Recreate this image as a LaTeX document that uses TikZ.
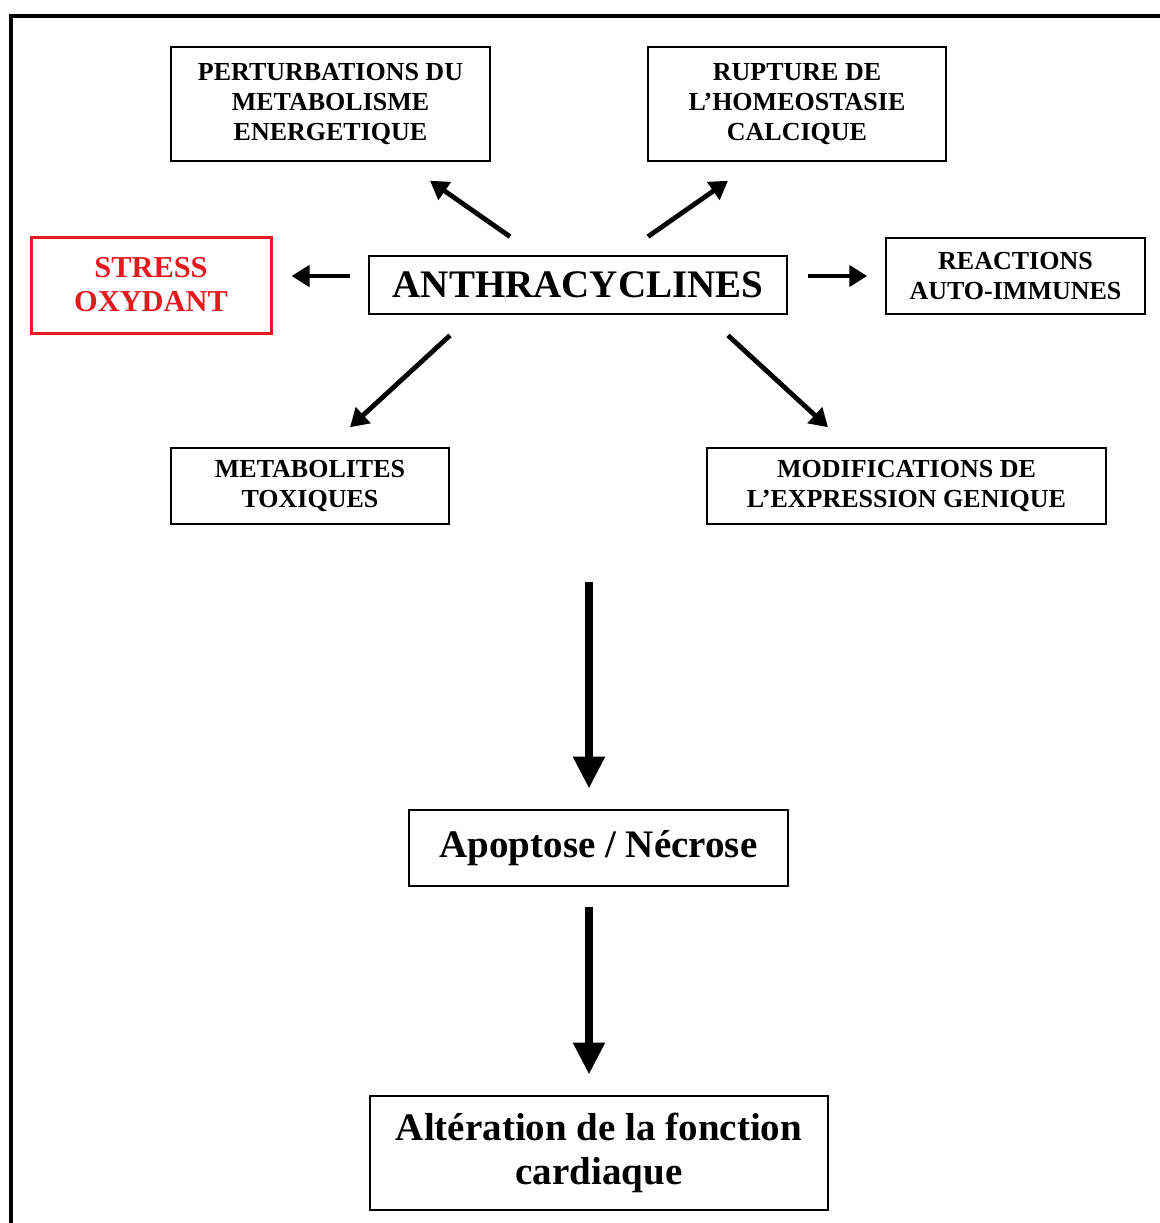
\documentclass[tikz,border=0pt]{standalone}
\usepackage{fontspec}
\setmainfont{Liberation Serif}
\usetikzlibrary{arrows.meta,calc}
\definecolor{rouge}{RGB}{230,25,30}
\tikzset{
  petit/.style={draw, line width=0.75pt, inner sep=0pt, align=center,
    font=\bfseries\fontsize{13}{15}\selectfont},
  grand/.style={draw, line width=1.4pt, inner sep=0pt, align=center,
    font=\bfseries\fontsize{19.5}{22}\selectfont},
  fleche/.style={line width=2.4pt, -{Triangle[length=9pt,width=10.5pt]}},
  grossefleche/.style={line width=4pt, -{Triangle[length=16pt,width=15pt]}}
}
\begin{document}
\begin{tikzpicture}[x=0.5pt,y=-0.5pt]
        \useasboundingbox (0,0) rectangle (1160,1223);
        % Cadre
        \draw[line width=2pt] (11,1223) -- (11,16) -- (1160,16);

        % Centre
        \node[grand, minimum width=209pt, minimum height=29pt, text depth=0pt] (anth) at (578,285) {ANTHRACYCLINES};

        % Effets
        \node[petit, minimum width=159.5pt, minimum height=57pt] (perturb) at (330.5,104) {PERTURBATIONS DU\\METABOLISME\\ENERGETIQUE};
        \node[petit, minimum width=149pt, minimum height=57pt] (rupture) at (797,104) {RUPTURE DE\\L’HOMEOSTASIE\\CALCIQUE};
        \node[draw=rouge, text=rouge, line width=1.5pt, inner sep=0pt, align=center,
              font=\bfseries\fontsize{15.2}{17}\selectfont,
              minimum width=120pt, minimum height=48pt] (stress) at (151,285) {STRESS\\OXYDANT};
        \node[petit, minimum width=129.5pt, minimum height=38pt] (reactions) at (1015.5,276) {REACTIONS\\AUTO-IMMUNES};
        \node[petit, minimum width=139pt, minimum height=38pt] (metab) at (310,486) {METABOLITES\\TOXIQUES};
        \node[petit, minimum width=199.5pt, minimum height=38pt] (modif) at (906.5,486) {MODIFICATIONS DE\\L’EXPRESSION GENIQUE};

        % Consequences
        \node[grand, minimum width=189.5pt, minimum height=38pt] (apop) at (598.5,848) {Apoptose / Nécrose};
        \node[grand, minimum width=229pt, minimum height=57pt] (alter) at (599,1153) {Altération de la fonction\\cardiaque};

        % Fleches
        \draw[fleche] ($(anth.north)+(-68,-18)$) -- ($(perturb.south)+(99.5,19)$);
        \draw[fleche] ($(anth.north)+(70,-18)$) -- ($(rupture.south)+(-69,19)$);
        \draw[fleche] ($(anth.west)+(-18,-9)$) -- ($(stress.east)+(19,-9)$);
        \draw[fleche] ($(anth.east)+(20,-9)$) -- ($(reactions.west)+(-18,0)$);
        \draw[fleche] ($(anth.south)+(-128,20)$) -- ($(metab.north)+(40,-20)$);
        \draw[fleche] ($(anth.south)+(150,20)$) -- ($(modif.north)+(-78.5,-20)$);

        \coordinate (depart) at (589,582);
        \draw[grossefleche] (depart) -- ($(apop.north)+(-9.5,-20)$);
        \draw[grossefleche] ($(apop.south)+(-9.5,20)$) -- ($(alter.north)+(-10,-20)$);
\end{tikzpicture}
\end{document}
